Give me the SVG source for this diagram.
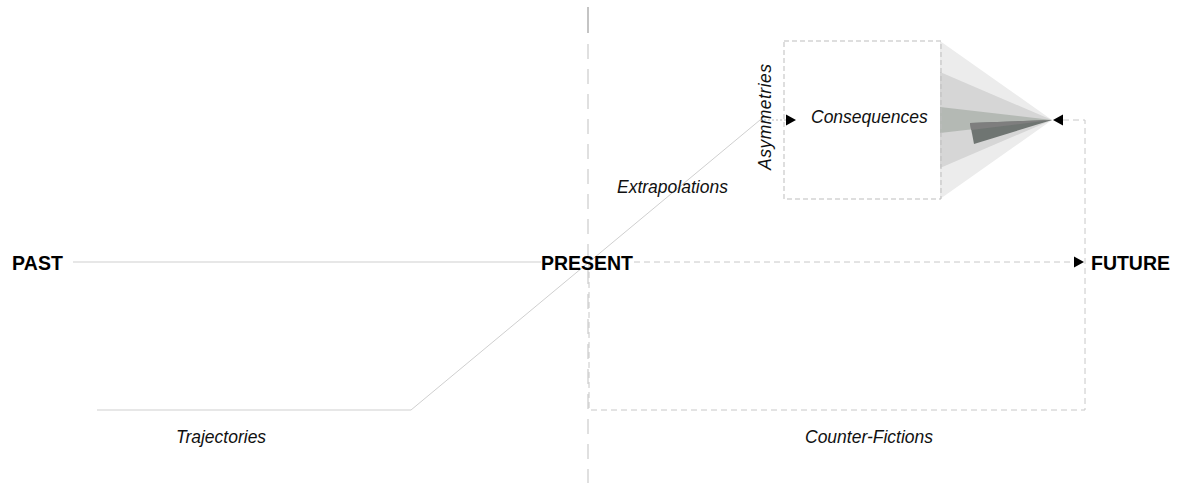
<svg xmlns="http://www.w3.org/2000/svg" width="1178" height="483" viewBox="0 0 1178 483">
<defs>
<style>
.lbl{font-family:"Liberation Sans",Arial,sans-serif;font-style:italic;font-size:17.5px;fill:#111}
.key{font-family:"Liberation Sans",Arial,sans-serif;font-weight:bold;font-size:19.5px;fill:#000}
.solid{fill:none;stroke:#cfcfcf;stroke-width:1}
.dash{fill:none;stroke:#c8c8c8;stroke-width:1;stroke-dasharray:6 4}
.dot{fill:none;stroke:#bbb;stroke-width:1;stroke-dasharray:2 2}
.arrow{fill:#000}
</style>
</defs>
<rect width="1178" height="483" fill="#fff"/>

<g id="axis">
<line x1="588" y1="7" x2="588" y2="483" stroke="#e0e0e0" stroke-width="2" stroke-dasharray="26 11 15 10 15 10 15 10 15 10 15 10 15 10 15 10 15 10 15 10 15 10 15 10 15 10 15 10 15 10 15 10 15 10 15 10 15 10 15 10"/>
<line x1="588" y1="7" x2="588" y2="33" stroke="#a8a8a8" stroke-width="1"/>
</g>

<g id="cone">
<polygon points="940,41 940,199 1052,120" fill="#ececec"/>
<polygon points="940,72 940,168 1052,120" fill="#d6d6d6"/>
<polygon points="940,107 940,133 1052,120" fill="#b4b9b4"/>
<polygon points="970,123 974,144 1052,120" fill="#6f7572"/>
<polygon points="970,123 971,130 1052,120" fill="#7e7e7e"/>
</g>

<g id="connectors">
<line class="solid" x1="73" y1="262" x2="541" y2="262"/>
<polyline class="solid" points="97,410 411,410 760,120"/>
<line class="dot" x1="760" y1="120" x2="786" y2="120"/>
<line class="dash" x1="634" y1="262" x2="1075" y2="262"/>
<path class="dash" d="M589,262 V410 H1085 V120 H1062"/>
<polygon class="arrow" points="786,114.5 796,120 786,125.5"/>
<polygon class="arrow" points="1074,256.5 1084,262 1074,267.5"/>
<polygon class="arrow" points="1063,114.5 1053,120 1063,125.5"/>
</g>

<g id="consequences">
<rect x="784" y="41" width="157" height="158" fill="none" stroke="#bdbdbd" stroke-width="1" stroke-dasharray="5 3"/>
<text class="lbl" x="811" y="123">Consequences</text>
</g>

<g id="past"><text class="key" x="12" y="270" textLength="51">PAST</text></g>
<g id="present"><text class="key" x="541" y="270" textLength="92">PRESENT</text></g>
<g id="future"><text class="key" x="1091" y="270" textLength="79">FUTURE</text></g>

<g id="asymmetries"><text class="lbl" transform="translate(771,170) rotate(-90)" textLength="106">Asymmetries</text></g>
<g id="extrapolations"><text class="lbl" x="617" y="193">Extrapolations</text></g>
<g id="trajectories"><text class="lbl" x="176" y="443">Trajectories</text></g>
<g id="counter-fictions"><text class="lbl" x="805" y="443">Counter-Fictions</text></g>
</svg>
